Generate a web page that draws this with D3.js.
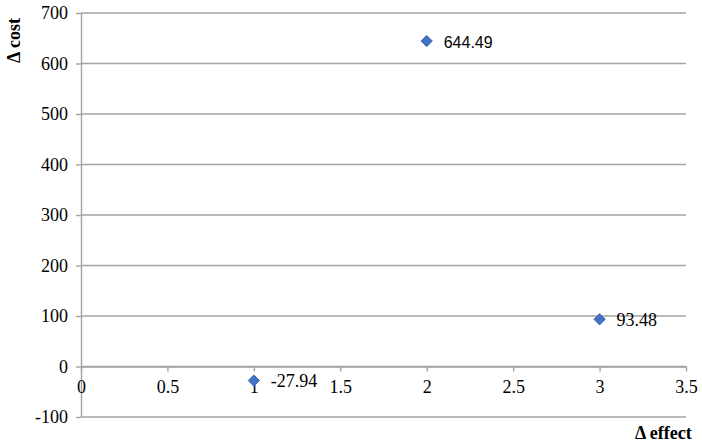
<!DOCTYPE html>
<html><head><meta charset="utf-8">
<script src="https://cdn.jsdelivr.net/npm/d3@7"></script>
<style>body{margin:0;background:#fff}svg{display:block}</style>
</head><body>
<svg id="c" width="702" height="442"></svg>
<script>
const effects = [2, 3, 1];
const costs = [644.49, 93.48, -27.94];
const labels = ["644.49", "93.48", "-27.94"];
const xTicks = [0, 0.5, 1, 1.5, 2, 2.5, 3, 3.5];
const yTicks = [-100, 0, 100, 200, 300, 400, 500, 600, 700];
const xTitle = "Δ effect";
const yTitle = "Δ cost";

const svg = d3.select("#c");
const x = d3.scaleLinear().domain([0, 3.5]).range([81, 686]);
const y = d3.scaleLinear().domain([-100, 700]).range([417, 13]);
const font = "'Liberation Serif','DejaVu Serif'";
const grid = "#a3a3a3";

svg.append("g").selectAll("line").data(yTicks).join("line")
  .attr("x1", x(0)).attr("x2", x(3.5))
  .attr("y1", d => y(d)).attr("y2", d => y(d))
  .attr("stroke", grid).attr("stroke-width", 1.4);

const ya = svg.append("g").attr("transform", `translate(${x(0)},0)`)
  .call(d3.axisLeft(y).tickValues(yTicks).tickSize(5).tickSizeOuter(0).tickPadding(8).tickFormat(d => String(d)));
ya.attr("font-family", font).attr("font-size", 18);
ya.select(".domain").attr("stroke", grid).attr("stroke-width", 1.4);
ya.selectAll(".tick line").attr("stroke", grid).attr("stroke-width", 1.4);
ya.selectAll("text").attr("fill", "#000");

const xa = svg.append("g").attr("transform", `translate(0,${y(0)})`)
  .call(d3.axisBottom(x).tickValues(xTicks).tickSize(5).tickSizeOuter(0).tickPadding(9).tickFormat(d => String(d)));
xa.attr("font-family", font).attr("font-size", 18);
xa.select(".domain").attr("stroke", grid).attr("stroke-width", 1.4);
xa.selectAll(".tick line").attr("stroke", grid).attr("stroke-width", 1.4);
xa.selectAll("text").attr("fill", "#000");

const pts = effects.map((e, i) => ({e, c: costs[i], l: labels[i]}));
const sym = d3.symbol().type(d3.symbolDiamond2).size(80);
svg.append("g").selectAll("path").data(pts).join("path")
  .attr("d", sym)
  .attr("transform", d => `translate(${x(d.e)},${y(d.c)})`)
  .attr("fill", "#4472c4").attr("stroke", "#3a64b0").attr("stroke-width", 1);

svg.append("g").selectAll("text").data(pts).join("text")
  .attr("x", d => x(d.e) + 17).attr("y", d => y(d.c) + 6.5)
  .attr("font-family", (d, i) => i === 0 ? "'Liberation Sans',Arial,sans-serif" : font)
  .attr("font-size", (d, i) => i === 0 ? 16 : 18).attr("fill", "#000")
  .text(d => d.l);

svg.append("text")
  .attr("transform", `translate(20,40.5) rotate(-90)`)
  .attr("text-anchor", "middle")
  .attr("font-family", font).attr("font-size", 18).attr("font-weight", "bold")
  .text(yTitle);
svg.append("text")
  .attr("x", 635).attr("y", 439)
  .attr("font-family", font).attr("font-size", 18).attr("font-weight", "bold")
  .text(xTitle);
</script>
</body></html>
